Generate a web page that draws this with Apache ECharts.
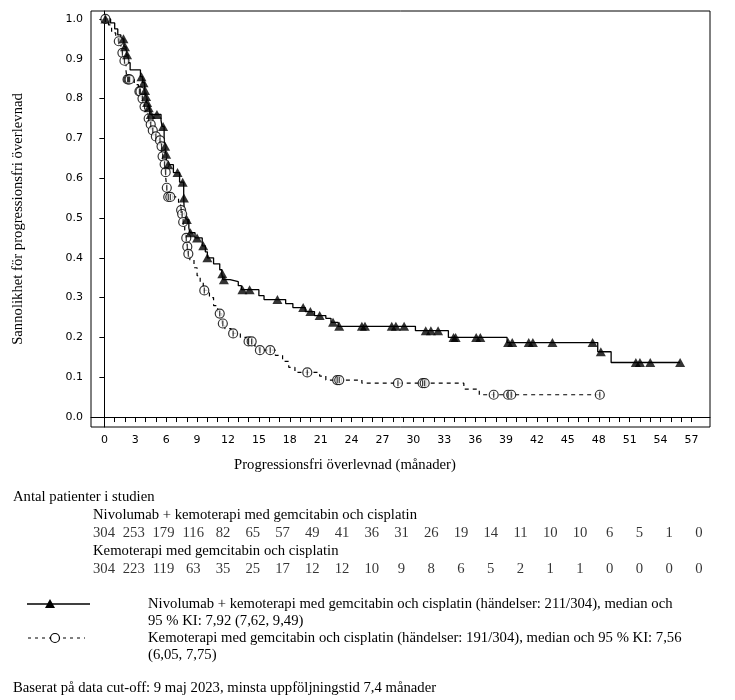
<!DOCTYPE html>
<html>
<head>
<meta charset="utf-8">
<script src="https://cdn.jsdelivr.net/npm/echarts@6/dist/echarts.min.js"></script>
<style>
  html, body { margin: 0; padding: 0; background: #fff; }
  #chart { width: 735px; height: 700px; }
</style>
</head>
<body>
<div id="chart"></div>
<script>
// Kaplan-Meier: [månader, sannolikhet]
var nivoSteps = [
  [0, 1], [0.6, 0.99], [1.0, 0.975], [1.3, 0.96], [1.6, 0.95], [1.9, 0.93], [2.1, 0.91], [2.3, 0.89],
  [2.5, 0.872], [3.5, 0.855], [3.7, 0.84], [3.9, 0.82], [4.0, 0.805], [4.1, 0.79], [4.2, 0.777],
  [4.4, 0.76], [5.5, 0.745], [5.6, 0.73], [5.8, 0.70], [5.85, 0.68], [5.95, 0.66], [6.1, 0.634],
  [6.7, 0.614], [7.3, 0.59], [7.7, 0.55], [7.75, 0.52], [7.9, 0.496], [8.2, 0.475], [8.3, 0.463],
  [8.8, 0.45], [9.5, 0.43], [9.8, 0.415], [10.0, 0.40], [10.6, 0.385], [11.2, 0.37], [11.4, 0.36],
  [11.5, 0.345], [12.2, 0.34], [13.0, 0.33], [13.3, 0.32], [15.0, 0.305], [15.5, 0.295], [17.6, 0.285],
  [18.3, 0.275], [19.5, 0.265], [20.4, 0.255], [21.5, 0.248], [22.0, 0.238], [22.7, 0.228],
  [30.2, 0.217], [33.4, 0.2], [39.1, 0.187], [47.9, 0.164], [49.2, 0.137], [55.9, 0.137]
];
var chemoSteps = [
  [0, 1], [0.4, 0.985], [0.7, 0.965], [1.1, 0.955], [1.3, 0.944], [1.6, 0.93], [1.7, 0.915], [1.9, 0.895],
  [2.1, 0.87], [2.2, 0.848], [2.9, 0.835], [3.3, 0.818], [3.6, 0.80], [3.8, 0.78], [4.0, 0.765],
  [4.2, 0.75], [4.4, 0.735], [4.6, 0.72], [4.8, 0.705], [5.3, 0.695], [5.5, 0.68], [5.6, 0.655],
  [5.8, 0.635], [5.9, 0.615], [6.0, 0.59], [6.05, 0.576], [6.1, 0.553], [7.2, 0.535], [7.4, 0.52],
  [7.5, 0.51], [7.6, 0.49], [7.8, 0.47], [7.9, 0.45], [8.0, 0.428], [8.1, 0.41], [8.3, 0.395],
  [8.7, 0.375], [9.0, 0.355], [9.3, 0.338], [9.6, 0.318], [10.2, 0.30], [10.6, 0.28], [11.0, 0.26],
  [11.4, 0.235], [11.7, 0.222], [12.3, 0.21], [13.2, 0.2], [13.8, 0.19], [14.6, 0.178], [15.0, 0.168],
  [16.6, 0.155], [17.3, 0.14], [17.9, 0.125], [18.5, 0.112], [20.9, 0.103], [21.5, 0.093],
  [25.0, 0.085], [34.9, 0.07], [36.4, 0.056], [48.1, 0.056]
];
// censurerade tider
var nivoCensor = [0.1, 1.85, 2.0, 2.2, 3.6, 3.8, 3.95, 4.05, 4.15, 4.3, 4.5, 5.1, 5.7, 5.9, 6.0, 6.2,
  7.1, 7.6, 7.72, 8.0, 8.35, 9.0, 9.6, 10.0, 11.45, 11.6, 13.4, 14.1, 16.8, 19.3, 20.0, 20.9, 22.2,
  22.8, 25.0, 25.3, 27.9, 28.3, 29.1, 31.2, 31.7, 32.4, 33.9, 34.1, 36.1, 36.5, 39.2, 39.6, 41.2,
  41.6, 43.5, 47.4, 48.2, 51.6, 52.0, 53.0, 55.9];
var chemoCensor = [0.1, 1.4, 1.75, 1.95, 2.25, 2.35, 2.45, 3.4, 3.5, 3.7, 3.9, 4.3, 4.5, 4.7, 5.0,
  5.4, 5.55, 5.65, 5.85, 5.95, 6.06, 6.2, 6.4, 7.45, 7.55, 7.65, 7.95, 8.05, 8.15, 9.7, 11.2, 11.5,
  12.5, 14.0, 14.3, 15.1, 16.1, 19.7, 22.6, 22.8, 28.5, 30.9, 31.1, 37.8, 39.2, 39.5, 48.1];

// antal patienter i studien
var riskNivo = [304, 253, 179, 116, 82, 65, 57, 49, 41, 36, 31, 26, 19, 14, 11, 10, 10, 6, 5, 1, 0];
var riskChemo = [304, 223, 119, 63, 35, 25, 17, 12, 12, 10, 9, 8, 6, 5, 2, 1, 1, 0, 0, 0, 0];

var xTicks = [];
for (var i = 0; i <= 57; i++) xTicks.push(i);
var xLabels = xTicks.filter(function (v) { return v % 3 === 0; });
var yTicks = [];
for (var j = 0; j <= 10; j++) yTicks.push(j / 10);

var serif = '"Liberation Serif", "Times New Roman", serif';
var sans = '"DejaVu Sans", Verdana, sans-serif';
var fs = 14.7;

function survAt(steps, t) {
  var s = steps[0][1];
  for (var k = 0; k < steps.length; k++) {
    if (steps[k][0] <= t) s = steps[k][1];
  }
  return s;
}

var nivoMarks = nivoCensor.map(function (t) { return [t, survAt(nivoSteps, t)]; });
var chemoMarks = chemoCensor.map(function (t) { return [t, survAt(chemoSteps, t)]; });
var riskRows = riskNivo.map(function (n, k) { return [k, 1, n]; });
var riskRows2 = riskChemo.map(function (n, k) { return [k, 0, n]; });

var chart = echarts.init(document.getElementById('chart'));

function txt(x, y, text, extra) {
  var o = {
    type: 'text', x: x, y: y,
    style: { text: text, font: fs + 'px ' + serif, fill: '#000', textAlign: 'left', textVerticalAlign: 'middle' }
  };
  if (extra) for (var key in extra) o[key] = extra[key];
  return o;
}

var option = {
  animation: false,
  backgroundColor: '#fff',
  grid: [
    { left: 91, right: 25, top: 11, height: 416, show: true, borderColor: '#000', borderWidth: 1, backgroundColor: 'transparent' },
    { left: 104, right: 36, top: 533, height: 36 }
  ],
  xAxis: [
    {
      type: 'value', gridIndex: 0, min: -1.3, max: 58.8,
      axisLine: { show: true, lineStyle: { color: '#000', width: 1 } },
      axisTick: { show: true, length: 5, customValues: xTicks, lineStyle: { color: '#000' } },
      axisLabel: { customValues: xLabels, color: '#000', fontFamily: sans, fontSize: 11, margin: 8 },
      splitLine: { show: false }
    },
    { type: 'value', gridIndex: 1, min: 0, max: 20, show: false }
  ],
  yAxis: [
    {
      type: 'value', gridIndex: 0, min: -0.025, max: 1.02,
      axisLine: { show: true, lineStyle: { color: '#000', width: 1 } },
      axisTick: { show: true, length: 5, customValues: yTicks, lineStyle: { color: '#000' } },
      axisLabel: {
        customValues: yTicks, color: '#000', fontFamily: sans, fontSize: 11, margin: 8,
        formatter: function (v) { return v.toFixed(1); }
      },
      splitLine: { show: false }
    },
    { type: 'value', gridIndex: 1, min: 0, max: 1, show: false }
  ],
  series: [
    {
      name: 'Kemoterapi', type: 'line', step: 'end', data: chemoSteps, showSymbol: false,
      lineStyle: { color: '#000', width: 1.2, type: [4, 4] }, z: 2
    },
    {
      name: 'Nivolumab', type: 'line', step: 'end', data: nivoSteps, showSymbol: false,
      lineStyle: { color: '#000', width: 1.3 }, z: 3
    },
    {
      type: 'scatter', data: chemoMarks, symbol: 'circle', symbolSize: 9,
      itemStyle: { color: '#fff', borderColor: '#000', borderWidth: 1.2 }, z: 4
    },
    {
      type: 'scatter', data: chemoMarks, symbol: 'rect', symbolSize: [1.2, 6],
      itemStyle: { color: '#000' }, z: 5
    },
    {
      type: 'scatter', data: nivoMarks, symbol: 'triangle', symbolSize: [10, 9],
      itemStyle: { color: '#000' }, z: 6
    },
    {
      type: 'scatter', xAxisIndex: 1, yAxisIndex: 1, data: riskRows.concat(riskRows2),
      symbolSize: 1, itemStyle: { color: 'rgba(0,0,0,0)' },
      label: {
        show: true, position: 'inside', color: '#000', fontFamily: serif, fontSize: fs,
        formatter: function (p) { return p.value[2]; }
      }
    }
  ],
  graphic: [
    txt(18, 219, 'Sannolikhet för progressionsfri överlevnad', {
      rotation: Math.PI / 2,
      style: { text: 'Sannolikhet för progressionsfri överlevnad', font: fs + 'px ' + serif, fill: '#000', textAlign: 'center', textVerticalAlign: 'middle' }
    }),
    txt(234, 465, 'Progressionsfri överlevnad (månader)'),
    txt(13, 497, 'Antal patienter i studien'),
    txt(93, 515, 'Nivolumab + kemoterapi med gemcitabin och cisplatin'),
    txt(93, 551, 'Kemoterapi med gemcitabin och cisplatin'),
    { type: 'line', shape: { x1: 27, y1: 604, x2: 90, y2: 604 }, style: { stroke: '#000', lineWidth: 1.3 } },
    { type: 'polygon', shape: { points: [[50, 599], [45, 608], [55, 608]] }, style: { fill: '#000' } },
    txt(148, 604, 'Nivolumab + kemoterapi med gemcitabin och cisplatin (händelser: 211/304), median och'),
    txt(148, 621, '95 % KI: 7,92 (7,62, 9,49)'),
    { type: 'line', shape: { x1: 28, y1: 638, x2: 85, y2: 638 }, style: { stroke: '#000', lineWidth: 1.2, lineDash: [3, 4] } },
    { type: 'circle', shape: { cx: 55, cy: 638, r: 4.5 }, style: { fill: '#fff', stroke: '#000', lineWidth: 1.2 } },
    txt(148, 638, 'Kemoterapi med gemcitabin och cisplatin (händelser: 191/304), median och 95 % KI: 7,56'),
    txt(148, 655, '(6,05, 7,75)'),
    txt(13, 688, 'Baserat på data cut-off: 9 maj 2023, minsta uppföljningstid 7,4 månader')
  ]
};

chart.setOption(option);
</script>
</body>
</html>
